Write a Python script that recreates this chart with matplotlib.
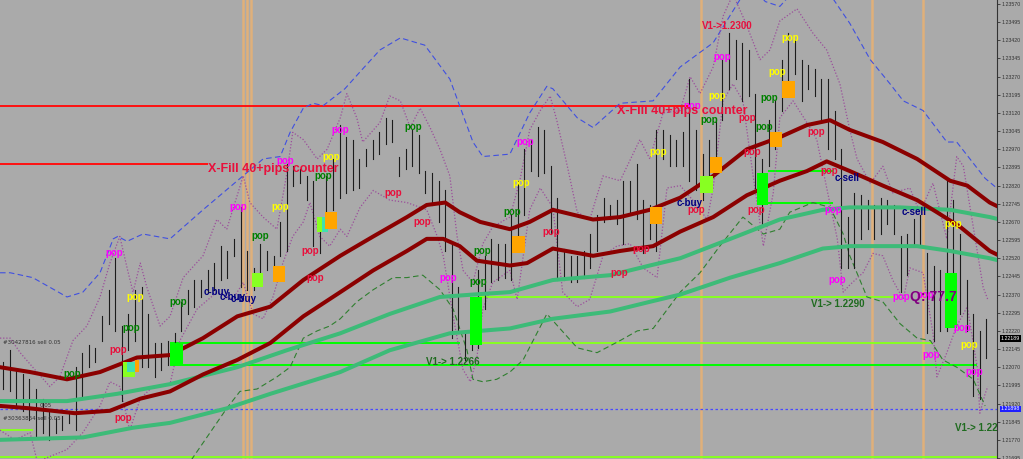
import matplotlib
matplotlib.use('Agg')
import matplotlib.pyplot as plt
import matplotlib.transforms as mtransforms
from matplotlib.patches import Rectangle

# ---- bar data (high / low per bar) ----
bar_high = [1.2209, 1.2214, 1.2206, 1.2204, 1.2202, 1.2198, 1.2194, 1.2189, 1.2186, 1.2187,
            1.2189, 1.2207, 1.2213, 1.2216, 1.2215, 1.2228, 1.2239, 1.2252, 1.2224, 1.2229,
            1.2239, 1.2240, 1.2229, 1.2217, 1.2217, 1.2218, 1.2221, 1.2234, 1.2239, 1.2243,
            1.2243, 1.2247, 1.2250, 1.2257, 1.2255, 1.2260, 1.2273, 1.2255, 1.2248, 1.2258,
            1.2255, 1.2253, 1.2267, 1.2291, 1.2290, 1.2289, 1.2286, 1.2284, 1.2267, 1.2286,
            1.2293, 1.2307, 1.2302, 1.2301, 1.2293, 1.2297, 1.2301, 1.2304, 1.2310, 1.2309,
            1.2294, 1.2297, 1.2305, 1.2303, 1.2288, 1.2287, 1.2284, 1.2280, 1.2258, 1.2240,
            1.2222, 1.2228, 1.2247, 1.2253, 1.2260, 1.2258, 1.2258, 1.2270, 1.2284, 1.2297,
            1.2301, 1.2306, 1.2305, 1.2290, 1.2277, 1.2256, 1.2253, 1.2253, 1.2255, 1.2262,
            1.2270, 1.2277, 1.2274, 1.2276, 1.2284, 1.2284, 1.2291, 1.2276, 1.2274, 1.2305,
            1.2305, 1.2303, 1.2301, 1.2304, 1.2326, 1.2305, 1.2295, 1.2301, 1.2310, 1.2334,
            1.2345, 1.2342, 1.2341, 1.2338, 1.2320, 1.2293, 1.2309, 1.2317, 1.2334, 1.2345,
            1.2342, 1.2334, 1.2332, 1.2330, 1.2326, 1.2326, 1.2313, 1.2297, 1.2269, 1.2279,
            1.2278, 1.2276, 1.2274, 1.2277, 1.2276, 1.2274, 1.2261, 1.2262, 1.2268, 1.2270,
            1.2254, 1.2249, 1.2247, 1.2284, 1.2276, 1.2262, 1.2243, 1.2229, 1.2222, 1.2227]
bar_low = [1.2198, 1.2197, 1.2191, 1.2189, 1.2185, 1.2178, 1.2180, 1.2177, 1.2180, 1.2181,
           1.2184, 1.2181, 1.2194, 1.2207, 1.2209, 1.2218, 1.2225, 1.2222, 1.2193, 1.2214,
           1.2218, 1.2207, 1.2207, 1.2203, 1.2206, 1.2208, 1.2209, 1.2222, 1.2229, 1.2232,
           1.2236, 1.2238, 1.2239, 1.2243, 1.2244, 1.2253, 1.2240, 1.2239, 1.2239, 1.2243,
           1.2247, 1.2248, 1.2253, 1.2255, 1.2282, 1.2283, 1.2276, 1.2257, 1.2254, 1.2269,
           1.2272, 1.2277, 1.2279, 1.2280, 1.2281, 1.2290, 1.2293, 1.2295, 1.2299, 1.2300,
           1.2286, 1.2289, 1.2290, 1.2287, 1.2279, 1.2274, 1.2267, 1.2255, 1.2219, 1.2221,
           1.2210, 1.2214, 1.2215, 1.2231, 1.2242, 1.2243, 1.2244, 1.2243, 1.2255, 1.2270,
           1.2288, 1.2286, 1.2287, 1.2262, 1.2243, 1.2243, 1.2242, 1.2242, 1.2244, 1.2248,
           1.2255, 1.2267, 1.2268, 1.2266, 1.2258, 1.2270, 1.2268, 1.2254, 1.2260, 1.2255,
           1.2293, 1.2290, 1.2290, 1.2290, 1.2284, 1.2280, 1.2276, 1.2282, 1.2293, 1.2309,
           1.2322, 1.2326, 1.2317, 1.2319, 1.2281, 1.2265, 1.2290, 1.2297, 1.2313, 1.2324,
           1.2328, 1.2317, 1.2322, 1.2319, 1.2309, 1.2297, 1.2293, 1.2248, 1.2248, 1.2248,
           1.2260, 1.2264, 1.2260, 1.2262, 1.2266, 1.2262, 1.2238, 1.2245, 1.2257, 1.2258,
           1.2221, 1.2218, 1.2222, 1.2222, 1.2239, 1.2229, 1.2222, 1.2195, 1.2194, 1.2211]

# ---- moving averages (bar index, price) ----
ma_up_x = [-0.45, 4.1, 9.7, 14.7, 20.3, 25.3, 30.3, 35.5, 40.5, 45.5, 51.1, 56.1, 61.2, 64.2, 67.0,
           69.2, 72.3, 76.8, 79.8, 83.3, 89.4, 93.5, 98.0, 102.6, 107.6, 112.7, 117.7, 121.8, 125.3,
           128.3, 133.3, 138.5, 143.5, 146.1, 149.5, 151]
ma_up_y = [1.2207, 1.2205, 1.2202, 1.2205, 1.2211, 1.2212, 1.2219, 1.2228, 1.2232, 1.2243, 1.2253,
           1.2261, 1.2269, 1.2274, 1.2275, 1.2271, 1.2267, 1.2264, 1.2267, 1.2272, 1.2268, 1.2269,
           1.2272, 1.2277, 1.2286, 1.2297, 1.2302, 1.2307, 1.2309, 1.2305, 1.2300, 1.2293, 1.2284,
           1.2282, 1.2275, 1.2273]
ma_lo_x = [-0.45, 4.1, 10.9, 16.2, 20.8, 25.3, 30.3, 35.5, 40.5, 45.5, 51.1, 56.1, 61.2, 64.2, 66.7,
           69.2, 71.8, 76.8, 79.4, 83.3, 89.4, 93.5, 98.5, 102.6, 107.6, 112.7, 117.7, 121.8, 124.8,
           128.3, 133.3, 138.5, 141.5, 145.0, 149.5, 151]
ma_lo_y = [1.2191, 1.2190, 1.2188, 1.2189, 1.2194, 1.2197, 1.2204, 1.2210, 1.2217, 1.2228, 1.2238,
           1.2247, 1.2255, 1.2260, 1.2260, 1.2257, 1.2251, 1.2249, 1.2250, 1.2256, 1.2253, 1.2255,
           1.2257, 1.2263, 1.2269, 1.2278, 1.2284, 1.2288, 1.2292, 1.2288, 1.2282, 1.2276, 1.2271,
           1.2265, 1.2255, 1.2253]
sg_up_x = [-0.45, 9.7, 17.3, 25.3, 35.5, 43.0, 51.1, 58.6, 66.2, 71.2, 76.8, 83.3, 92.0, 98.0,
           102.6, 110.2, 117.7, 124.2, 128.3, 135.9, 143.5, 149.5, 151]
sg_up_y = [1.2193, 1.2193, 1.2196, 1.2200, 1.2207, 1.2214, 1.2221, 1.2229, 1.2236, 1.2237, 1.2238,
           1.2243, 1.2245, 1.2249, 1.2252, 1.2260, 1.2268, 1.2272, 1.2273, 1.2273, 1.2272, 1.2269,
           1.2268]
sg_lo_x = [-0.45, 12.1, 19.7, 25.3, 33.9, 40.5, 51.1, 58.6, 67.7, 76.8, 83.3, 92.0, 98.0, 102.6,
           110.2, 117.7, 124.2, 128.3, 138.5, 143.5, 149.5, 151]
sg_lo_y = [1.2177, 1.2178, 1.2182, 1.2184, 1.2190, 1.2196, 1.2205, 1.2214, 1.2221, 1.2223, 1.2227,
           1.2230, 1.2234, 1.2237, 1.2244, 1.2250, 1.2256, 1.2257, 1.2257, 1.2255, 1.2252, 1.2251]

# ---- envelopes ----
blue_x = [-0.45, 1.1, 4.5, 9.7, 12.1, 14.7, 16.7, 17.4, 18.8, 21.2, 25.3, 30.3, 35.5, 39.4, 42.0,
          43.5, 45.5, 47.0, 48.5, 51.8, 54.1, 57.1, 60.2, 63.9, 67.7, 71.2, 72.7, 76.8, 79.8, 82.4,
          83.3, 87.0, 89.4, 93.5, 98.5, 102.6, 107.6, 111.7, 113.2, 115.5, 117.7, 120.0, 123.0,
          125.8, 128.3, 131.4, 134.4, 136.4, 139.4, 143.0, 144.5, 148.8, 151]
blue_y = [1.2246, 1.2246, 1.2244, 1.2236, 1.2238, 1.2246, 1.2260, 1.2261, 1.2259, 1.2262, 1.2260,
          1.2272, 1.2284, 1.2293, 1.2294, 1.2304, 1.2314, 1.2316, 1.2315, 1.2322, 1.2329, 1.2338,
          1.2343, 1.2340, 1.2326, 1.2300, 1.2294, 1.2295, 1.2312, 1.2323, 1.2322, 1.2310, 1.2306,
          1.2316, 1.2317, 1.2331, 1.2341, 1.2359, 1.2365, 1.2358, 1.2356, 1.2363, 1.2367, 1.2359,
          1.2349, 1.2334, 1.2324, 1.2317, 1.2313, 1.2300, 1.2300, 1.2285, 1.2280]
pu_up_x = [-0.45, 1.1, 2.6, 4.5, 7.1, 8.6, 10.6, 12.7, 14.7, 16.2, 17.7, 18.8, 19.7, 20.8, 21.8,
           23.8, 25.3, 27.3, 30.3, 32.4, 33.9, 36.4, 37.4, 39.4, 41.5, 43.0, 43.9, 45.5, 47.6, 49.1,
           51.1, 52.1, 53.6, 54.5, 57.1, 58.6, 60.2, 61.7, 63.2, 64.7, 66.2, 67.7, 68.8, 69.7, 71.2,
           72.7, 74.2, 76.8, 78.3, 79.8, 81.4, 82.9, 83.9, 85.5, 87.0, 88.9, 90.9, 93.5, 96.5, 98.0,
           100.0, 102.6, 104.1, 105.6, 107.6, 109.1, 110.6, 112.4, 114.7, 116.2, 117.7, 120.3, 122.7,
           124.8, 126.8, 128.3, 129.4, 131.4, 133.3, 134.8, 137.4, 138.9, 140.9, 143.0, 144.5, 145.5,
           147.0, 148.5, 149.2]
pu_up_y = [1.2219, 1.2219, 1.2213, 1.2207, 1.2199, 1.2203, 1.2218, 1.2224, 1.2236, 1.2250, 1.2261,
           1.2248, 1.2238, 1.2250, 1.2240, 1.2224, 1.2228, 1.2244, 1.2253, 1.2268, 1.2264, 1.2286,
           1.2275, 1.2269, 1.2264, 1.2287, 1.2304, 1.2301, 1.2293, 1.2297, 1.2310, 1.2320, 1.2310,
           1.2300, 1.2308, 1.2319, 1.2317, 1.2306, 1.2314, 1.2306, 1.2297, 1.2286, 1.2261, 1.2247,
           1.2242, 1.2258, 1.2265, 1.2269, 1.2284, 1.2305, 1.2313, 1.2319, 1.2309, 1.2290, 1.2271,
           1.2268, 1.2286, 1.2284, 1.2301, 1.2293, 1.2312, 1.2313, 1.2327, 1.2320, 1.2331, 1.2352,
           1.2361, 1.2350, 1.2334, 1.2338, 1.2350, 1.2355, 1.2345, 1.2338, 1.2324, 1.2305, 1.2293,
           1.2283, 1.2290, 1.2279, 1.2281, 1.2271, 1.2283, 1.2260, 1.2294, 1.2290, 1.2265, 1.2240,
           1.2235]
pu_lo_x = [-0.45, 1.8, 4.1, 5.2, 9.7, 12.1, 14.7, 16.2, 17.7, 19.2, 20.8, 22.7, 25.3, 26.8, 29.4,
           32.4, 34.8, 36.4, 37.9, 39.4, 40.9, 42.4, 43.9, 45.5, 46.5, 48.0, 49.5, 51.1, 52.1, 54.1,
           56.1, 58.6, 61.2, 64.2, 65.8, 66.7, 68.2, 69.7, 70.8, 71.8, 72.7, 74.2, 76.8, 77.9, 79.8,
           81.4, 83.3, 84.8, 87.0, 88.9, 90.9, 93.0, 95.0, 97.0, 99.1, 100.6, 102.6, 104.5, 106.7,
           107.6, 109.1, 110.6, 112.1, 113.6, 115.2, 116.7, 117.7, 119.7, 121.8, 123.3, 124.8, 126.4,
           127.3, 128.3, 130.3, 131.8, 133.3, 134.8, 136.4, 137.4, 139.4, 140.9, 141.5, 143.0, 144.5,
           146.1, 147.6, 148.0, 148.8, 149.2]
pu_lo_y = [1.2181, 1.2177, 1.2180, 1.2168, 1.2173, 1.2180, 1.2191, 1.2201, 1.2199, 1.2181, 1.2194,
           1.2199, 1.2200, 1.2218, 1.2231, 1.2238, 1.2235, 1.2242, 1.2229, 1.2227, 1.2236, 1.2250,
           1.2261, 1.2267, 1.2275, 1.2261, 1.2257, 1.2264, 1.2261, 1.2273, 1.2280, 1.2276, 1.2275,
           1.2272, 1.2261, 1.2253, 1.2228, 1.2206, 1.2201, 1.2211, 1.2231, 1.2242, 1.2247, 1.2235,
           1.2272, 1.2281, 1.2273, 1.2238, 1.2232, 1.2235, 1.2253, 1.2257, 1.2258, 1.2248, 1.2244,
           1.2281, 1.2282, 1.2276, 1.2268, 1.2281, 1.2317, 1.2324, 1.2317, 1.2287, 1.2257, 1.2279,
           1.2310, 1.2317, 1.2308, 1.2301, 1.2281, 1.2260, 1.2238, 1.2241, 1.2246, 1.2254, 1.2253,
           1.2243, 1.2235, 1.2248, 1.2246, 1.2221, 1.2203, 1.2213, 1.2224, 1.2232, 1.2207, 1.2188,
           1.2196, 1.2199]
gd_x = [27.6, 33.9, 35.9, 38.5, 41.5, 43.5, 45.5, 47.6, 49.5, 51.1, 53.6, 56.1, 59.1, 61.2, 63.6,
        66.2, 68.2, 70.3, 71.2, 72.7, 74.8, 76.8, 78.8, 82.4, 87.0, 90.0, 93.5, 96.1, 98.5, 102.6,
        105.6, 108.6, 112.1, 115.2, 117.7, 119.2, 122.7, 125.3, 127.3, 128.3, 130.9, 133.3, 135.9,
        138.5, 140.5, 142.4, 144.5, 147.0, 148.8]
gd_y = [1.2165, 1.2190, 1.2197, 1.2198, 1.2203, 1.2207, 1.2219, 1.2222, 1.2224, 1.2227, 1.2234,
        1.2239, 1.2244, 1.2244, 1.2245, 1.2239, 1.2231, 1.2214, 1.2202, 1.2201, 1.2202, 1.2205,
        1.2210, 1.2229, 1.2215, 1.2213, 1.2218, 1.2222, 1.2223, 1.2238, 1.2246, 1.2257, 1.2269,
        1.2262, 1.2264, 1.2271, 1.2275, 1.2273, 1.2262, 1.2253, 1.2236, 1.2234, 1.2225, 1.2219,
        1.2218, 1.2210, 1.2207, 1.2202, 1.2191]

# ---- horizontal levels: (price, start bar, end bar, colour) ----
levels = [(1.2315, -0.45, 104.0, '#ff1010'),
          (1.2291, -0.45, 31.0, '#ff1010'),
          (1.2217, 25.3, 69.2, '#00ff00'),
          (1.2217, 72.3, 140.7, '#88ff22'),
          (1.2208, 25.3, 147.6, '#00ff00'),
          (1.2236, 72.3, 135.2, '#88ff22'),
          (1.2288, 115.9, 125.8, '#00ff00'),
          (1.2275, 115.9, 125.8, '#00ff00'),
          (1.2181, -0.45, 4.5, '#88ff22'),
          (1.2170, -0.45, 151.0, '#88ff22')]
vlines_at = [36.4, 37.0, 37.6, 105.8, 131.7, 139.4]

# ---- signal boxes: (start bar, end bar, top, bottom, colour) ----
boxes = [(25.3, 27.3, 1.2217, 1.2208, '#00ff00'),
         (70.8, 72.6, 1.2236, 1.2216, '#00ff00'),
         (114.2, 115.9, 1.2287, 1.2274, '#00ff00'),
         (142.7, 144.5, 1.2246, 1.2223, '#00ff00'),
         (37.7, 39.4, 1.2246, 1.2240, '#88ff22'),
         (47.6, 49.2, 1.2269, 1.2263, '#88ff22'),
         (48.3, 49.2, 1.2269, 1.2263, '#40e0b0'),
         (48.8, 50.6, 1.2271, 1.2264, '#ffa500'),
         (40.9, 42.7, 1.2249, 1.2242, '#ffa500'),
         (77.1, 79.1, 1.2261, 1.2254, '#ffa500'),
         (98.0, 99.8, 1.2273, 1.2266, '#ffa500'),
         (107.1, 108.9, 1.2294, 1.2287, '#ffa500'),
         (116.2, 118.0, 1.2304, 1.2298, '#ffa500'),
         (118.0, 120.0, 1.2325, 1.2318, '#ffa500'),
         (105.6, 107.6, 1.2286, 1.2279, '#88ff22'),
         (18.2, 20.0, 1.2209, 1.2203, '#88ff22'),
         (18.8, 20.0, 1.2209, 1.2205, '#40e0b0'),
         (20.0, 20.6, 1.2210, 1.2205, '#ffa500')]

# ---- "pop" markers: (bar, price, colour) ----
MAG, YEL, GRN, RED = '#ff00ff', '#ffff00', '#008000', '#e8103c'
pops = [(10.5, 1.2204, GRN), (17.4, 1.2214, RED), (18.2, 1.2186, RED), (19.4, 1.2223, GRN),
        (20.0, 1.2236, YEL), (16.8, 1.2254, MAG), (26.5, 1.2234, GRN), (35.6, 1.2273, MAG),
        (38.9, 1.2261, GRN), (42.0, 1.2273, YEL), (42.7, 1.2292, MAG), (48.5, 1.2286, GRN),
        (49.8, 1.2294, YEL), (51.1, 1.2305, MAG), (46.5, 1.2255, RED), (47.3, 1.2244, RED),
        (62.1, 1.2306, GRN), (59.1, 1.2279, RED), (63.5, 1.2267, RED), (67.4, 1.2244, MAG),
        (72.6, 1.2255, GRN), (72.0, 1.2242, GRN), (77.1, 1.2271, GRN), (79.1, 1.2300, MAG),
        (78.5, 1.2283, YEL), (83.0, 1.2263, RED), (93.3, 1.2246, RED), (96.7, 1.2256, RED),
        (99.2, 1.2296, YEL), (108.9, 1.2335, MAG), (108.2, 1.2319, YEL), (104.4, 1.2315, MAG),
        (107.0, 1.2309, GRN), (112.7, 1.2310, RED), (116.1, 1.2318, GRN), (115.3, 1.2306, GRN),
        (113.5, 1.2296, RED), (119.2, 1.2343, YEL), (117.3, 1.2329, YEL), (123.2, 1.2304, RED),
        (125.2, 1.2288, RED), (105.0, 1.2272, RED), (114.1, 1.2272, RED), (125.8, 1.2272, MAG),
        (126.4, 1.2243, MAG), (143.9, 1.2266, YEL), (136.1, 1.2236, MAG), (139.8, 1.2237, MAG),
        (145.3, 1.2223, MAG), (146.4, 1.2216, YEL), (140.6, 1.2212, MAG), (147.1, 1.2205, MAG)]

signals = [('c-buy', 32.4, 1.2238), ('c-buy', 34.8, 1.2236), ('c-buy', 36.4, 1.2235),
           ('c-buy', 104.1, 1.2275), ('c-sell', 127.9, 1.2285), ('c-sell', 138.0, 1.2271)]
targets = [('V1-> 1.2266', 68.2, 1.2209, '#1f6b1f'), ('V1->1.2300', 109.7, 1.2348, RED),
           ('V1-> 1.2290', 126.5, 1.2233, '#1f6b1f')]

tick_prices = [1.21695 + 0.00075 * k for k in range(26)]
last_price = 1.22189
ask_price = 1.21898

BG = '#aaaaaa'
fig = plt.figure(figsize=(10.23, 4.59), dpi=100, facecolor=BG)
ax = fig.add_axes([0, 0, 997 / 1023, 1])
ax.set_facecolor(BG)
ax.set_xlim(-0.4545, 150.6)
ax.set_ylim(1.2169085, 1.2358652)

for v in vlines_at:
    ax.axvline(v, color='#e0b07a', lw=1.8, zorder=1)
for p, x0, x1, c in levels:
    ax.plot([x0, x1], [p, p], color=c, lw=1.4, zorder=2, solid_capstyle='butt')
ax.axhline(ask_price, color='#4848ff', lw=0.9, ls=(0, (2, 2)), zorder=2)

ax.plot(blue_x, blue_y, color='#4050e0', lw=0.8, ls=(0, (5, 3)), zorder=2)
ax.plot(pu_up_x, pu_up_y, color='#9b4f9b', lw=0.9, ls=(0, (1, 1.5)), zorder=2)
ax.plot(pu_lo_x, pu_lo_y, color='#9b4f9b', lw=0.9, ls=(0, (1, 1.5)), zorder=2)
ax.plot(gd_x, gd_y, color='#2f7f2f', lw=0.8, ls=(0, (5, 3)), zorder=2)

for i in range(len(bar_high)):
    ax.plot([i, i], [bar_low[i], bar_high[i]], color='#1c1c1c', lw=0.8, zorder=3)

ax.plot(sg_up_x, sg_up_y, color='#3dbb78', lw=2.9, zorder=4, solid_capstyle='round')
ax.plot(sg_lo_x, sg_lo_y, color='#3dbb78', lw=2.9, zorder=4, solid_capstyle='round')
ax.plot(ma_up_x, ma_up_y, color='#8b0000', lw=2.9, zorder=4, solid_capstyle='round')
ax.plot(ma_lo_x, ma_lo_y, color='#8b0000', lw=2.9, zorder=4, solid_capstyle='round')

for x0, x1, top, bot, c in boxes:
    ax.add_patch(Rectangle((x0, bot), x1 - x0, top - bot, facecolor=c, edgecolor='none', zorder=5))

lab = dict(family='Liberation Sans', weight='bold', ha='center', va='center', zorder=6)
for x, y, c in pops:
    ax.text(x, y, 'pop', color=c, fontsize=7, **lab)
for t, x, y in signals:
    ax.text(x, y, t, color='#000080', fontsize=7, **lab)
for t, x, y, c in targets:
    ax.text(x, y, t, color=c, fontsize=7, **lab)
ax.text(144.3, 1.2182, 'V1-> 1.223', color='#1f6b1f', fontsize=7, family='Liberation Sans',
        weight='bold', ha='left', va='center', zorder=6, clip_on=True)
ax.text(31.1, 1.2289, 'X-Fill 40+pips counter', color=RED, fontsize=9, family='Liberation Sans',
        weight='bold', ha='left', va='center', zorder=6)
ax.text(93.0, 1.2313, 'X-Fill 40+pips counter', color=RED, fontsize=9, family='Liberation Sans',
        weight='bold', ha='left', va='center', zorder=6)
ax.text(137.4, 1.2236, 'Q: 77.7', color='#800080', fontsize=10, family='Liberation Sans',
        weight='bold', ha='left', va='center', zorder=6)
small = dict(fontsize=4, color='#303030', ha='left', va='center', zorder=6)
ax.text(0, 1.2217, '#30427816 sell 0.05', **small)
ax.text(5.5, 1.2191, '0.05', **small)
ax.text(0, 1.2186, '#30363864 sell 0.05', **small)

# right price scale
for s in ['top', 'left', 'bottom']:
    ax.spines[s].set_visible(False)
ax.spines['right'].set_color('#333333')
ax.spines['right'].set_linewidth(0.8)
ax.set_xticks([])
ax.yaxis.tick_right()
ax.set_yticks(tick_prices)
ax.set_yticklabels(['%.5f' % p for p in tick_prices], family='Liberation Sans')
ax.tick_params(axis='y', direction='out', length=2, width=0.6, pad=1.5, labelsize=3.8,
               colors='#333333')
trans = mtransforms.blended_transform_factory(ax.transAxes, ax.transData)
ax.text(1.0035, last_price, '%.5f' % last_price, transform=trans, fontsize=3.8, color='white',
        family='Liberation Sans', ha='left', va='center', clip_on=False,
        bbox=dict(boxstyle='square,pad=0.15', facecolor='black', edgecolor='none'))
ax.text(1.0035, ask_price, '%.5f' % ask_price, transform=trans, fontsize=3.8, color='white',
        family='Liberation Sans', ha='left', va='center', clip_on=False,
        bbox=dict(boxstyle='square,pad=0.15', facecolor='#2020ff', edgecolor='none'))

fig.savefig('out.png', dpi=100, facecolor=BG)
